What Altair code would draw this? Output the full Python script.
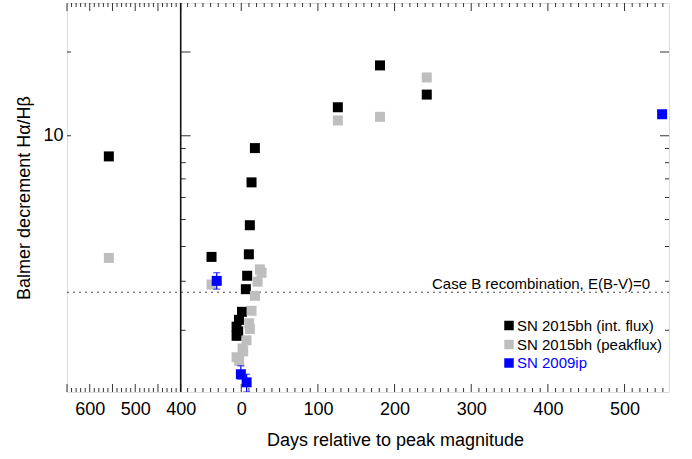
import altair as alt
import pandas as pd

FONT = "Liberation Sans"

# ---------------- data ----------------
int_days = [-558, -38.8, 1.0, -3.0, -6.1, -4.0, -6.1, 6.0, 7.7, 9.9, 11.2, 13.4, 17.8, 126, 181, 242]
int_vals = [8.43, 3.67, 2.33, 2.18, 2.06, 1.98, 1.91, 2.81, 3.14, 3.75, 4.77, 6.80, 9.03, 12.66, 17.9, 14.06]

peak_days = [-558, -38.8, 24.3, 26.5, 21.3, 17.8, 13.4, 10.3, 11.2, 6.9, 2.5, 1.7, -6.1, -2.7, 126, 181, 242]
peak_vals = [3.64, 2.92, 3.31, 3.22, 2.99, 2.66, 2.35, 2.12, 2.02, 1.84, 1.68, 1.72, 1.60, 1.55, 11.35, 11.7, 16.2]

ip_days = [-32, -0.5, 7, 549]
ip_vals = [3.01, 1.39, 1.30, 11.95]

ip_err_days = [-32, -0.5, 7]
ip_err_lo = [2.81, 1.335, 1.20]
ip_err_hi = [3.22, 1.49, 1.39]

series_names = ["SN 2015bh (int. flux)", "SN 2015bh (peakflux)", "SN 2009ip"]
series_colors = ["#000000", "#BEBEBE", "#0000FF"]
legend_text_colors = ["#000000", "#000000", "#0000FF"]

case_b = 2.74
case_b_label = "Case B recombination, E(B-V)=0"

x_label_values = [-600, -500, -400, 0, 100, 200, 300, 400, 500]
y_label_values = [10]

x_major_ticks = [-650, -600, -550, -500, -450, -400, 0, 100, 200, 300, 400, 500]
x_minor_ticks = [v for v in range(-640, -400, 10) if v % 50 != 0] + \
                [v for v in range(-70, 560, 10) if v % 100 != 0]
y_major_ticks = [10, 20]
y_minor_ticks = [2, 3, 4, 5, 6, 7, 8, 9]

# ---------------- tables ----------------
pts = pd.concat([
    pd.DataFrame({"day": int_days, "val": int_vals, "series": series_names[0]}),
    pd.DataFrame({"day": peak_days, "val": peak_vals, "series": series_names[1]}),
    pd.DataFrame({"day": ip_days, "val": ip_vals, "series": series_names[2]}),
], ignore_index=True)
err = pd.DataFrame({"day": ip_err_days, "lo": ip_err_lo, "hi": ip_err_hi})
xmaj = pd.DataFrame({"day": x_major_ticks})
xmin = pd.DataFrame({"day": x_minor_ticks})
ymaj = pd.DataFrame({"val": y_major_ticks})
ymin = pd.DataFrame({"val": y_minor_ticks})

W, H = 602, 389
BREAK = 113.7  # pixel position of the axis break

xscale = alt.Scale(domain=[-650, -400, -79, 558], range=[0, BREAK, BREAK, W], nice=False, zero=False)
yscale = alt.Scale(type="log", domain=[1.2, 30], nice=False)

xaxis = alt.Axis(values=x_label_values, labelExpr="format(abs(datum.value), 'd')",
                 ticks=False, tickSize=0, domain=False, grid=False,
                 labelFontSize=18, labelPadding=8, labelColor="#000",
                 title="Days relative to peak magnitude", titleFontSize=18, titleFontWeight="normal",
                 titleX=328, titleY=48, titleBaseline="middle", titleAlign="center", titleColor="#000")
yaxis = alt.Axis(values=y_label_values, format="d", ticks=False, tickSize=0, domain=False, grid=False,
                 labelFontSize=18, labelPadding=4, labelColor="#000",
                 title="Balmer decrement Hα/Hβ", titleFontSize=18, titleFontWeight="normal",
                 titleX=-43, titleY=194.5, titleBaseline="middle", titleAlign="center",
                 titleAngle=270, titleColor="#000")


def X(field="day"):
    return alt.X(f"{field}:Q", scale=xscale, axis=xaxis)


def Y(field="val"):
    return alt.Y(f"{field}:Q", scale=yscale, axis=yaxis)


TICK = "#333"
layers = []

# x ticks (top pointing down, bottom pointing up)
for df, ln in [(xmin, 4), (xmaj, 8)]:
    layers.append(alt.Chart(df).mark_rule(color=TICK, strokeWidth=1).encode(
        x=X(), y=alt.value(0), y2=alt.value(ln)))
    layers.append(alt.Chart(df).mark_rule(color=TICK, strokeWidth=1).encode(
        x=X(), y=alt.value(H), y2=alt.value(H - ln)))

# y ticks: left frame, break line (pointing right), right frame (pointing left)
for df, ln in [(ymin, 5), (ymaj, 10)]:
    layers.append(alt.Chart(df).mark_rule(color=TICK, strokeWidth=1).encode(
        y=Y(), x=alt.value(BREAK), x2=alt.value(BREAK + ln)))
    layers.append(alt.Chart(df).mark_rule(color=TICK, strokeWidth=1).encode(
        y=Y(), x=alt.value(W), x2=alt.value(W - (4 if ln == 5 else 9))))
layers.append(alt.Chart(ymaj).mark_rule(color=TICK, strokeWidth=1).encode(
    y=Y(), x=alt.value(0), x2=alt.value(4)))

# Case B line
layers.append(alt.Chart(pd.DataFrame({"val": [case_b]})).mark_rule(
    color="#444", strokeWidth=1, strokeDash=[2, 4]).encode(y=Y()))
layers.append(alt.Chart(pd.DataFrame({"val": [case_b], "t": [case_b_label]})).mark_text(
    font=FONT, fontSize=15, align="right", baseline="alphabetic", dy=-3, color="#000").encode(
    y=Y(), x=alt.value(583), text="t:N"))

# break line
layers.append(alt.Chart(pd.DataFrame({"val": [1.2]})).mark_rule(color="#111", strokeWidth=1.6).encode(
    x=alt.value(BREAK), y=alt.value(0), y2=alt.value(H)))

# data squares
for name, col in zip(series_names, series_colors):
    layers.append(alt.Chart(pts[pts.series == name]).mark_square(
        size=100, opacity=1, color=col, clip=True).encode(x=X(), y=Y()))

# error bars for SN 2009ip
layers.append(alt.Chart(err).mark_rule(color="#0000FF", strokeWidth=1.2, clip=True).encode(
    x=X(), y=alt.Y("lo:Q", scale=yscale, axis=yaxis), y2="hi:Q"))
for fld in ["lo", "hi"]:
    layers.append(alt.Chart(err).mark_tick(color="#0000FF", orient="horizontal", size=7,
                                           thickness=1.2, clip=True).encode(
        x=X(), y=alt.Y(f"{fld}:Q", scale=yscale, axis=yaxis)))

# legend (manual)
leg_y = [322.5, 341.5, 360]
for name, col, tcol, yy in zip(series_names, series_colors, legend_text_colors, leg_y):
    ldf = pd.DataFrame({"t": [name]})
    layers.append(alt.Chart(ldf).mark_square(size=90, color=col, opacity=1).encode(
        x=alt.value(442), y=alt.value(yy)))
    layers.append(alt.Chart(ldf).mark_text(font=FONT, fontSize=15, align="left", baseline="middle",
                                           color=tcol).encode(
        x=alt.value(450), y=alt.value(yy), text="t:N"))

chart = alt.layer(*layers).properties(
    width=W, height=H,
    autosize=alt.AutoSizeParams(type="none"),
    padding={"left": 67, "top": 3, "right": 23, "bottom": 67},
).configure_view(stroke="#333", strokeWidth=1.5).configure_axis(
    labelFont=FONT, titleFont=FONT
).configure(background="white")

chart.save("out.html", embed_options={"renderer": "svg", "actions": False})
